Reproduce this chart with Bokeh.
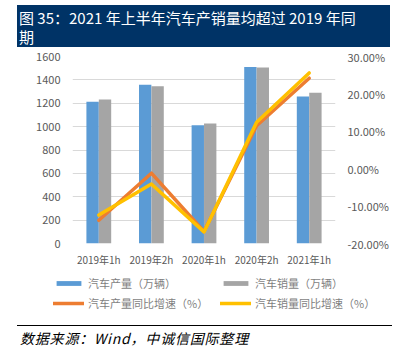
from bokeh.plotting import figure
from bokeh.models import (Range1d, LinearAxis, FixedTicker, PrintfTickFormatter, Legend, LegendItem,
                          ColumnDataSource, FactorRange, Div)
from bokeh.layouts import column
from bokeh.transform import dodge
from bokeh.embed import file_html
from bokeh.resources import INLINE

categories = ["2019年1h", "2019年2h", "2020年1h", "2020年2h", "2021年1h"]
production = [1213, 1359, 1012, 1510, 1257]
sales = [1232, 1345, 1026, 1505, 1289]
production_growth = [-13.8, -1.2, -16.8, 11.5, 24.2]
sales_growth = [-12.4, -4.1, -16.9, 12.4, 25.6]
left_ticks = [0, 200, 400, 600, 800, 1000, 1200, 1400, 1600]
right_ticks = [-20, -10, 0, 10, 20, 30]
series_names = ["汽车产量（万辆）", "汽车销量（万辆）", "汽车产量同比增速（%）", "汽车销量同比增速（%）"]

FONT = "Noto Sans CJK SC"
GRAY_TXT = "#595959"
C_PROD, C_SALES, C_PG, C_SG = "#5B9BD5", "#A5A5A5", "#ED7D31", "#FFC000"

src = ColumnDataSource(dict(cat=categories, prod=production, sales=sales,
                            pg=production_growth, sg=sales_growth))

p = figure(width=405, height=228, x_range=FactorRange(*categories), y_range=Range1d(0, 1600),
           output_backend="svg", toolbar_location=None, tools="")
p.min_border_left = 72
p.min_border_right = 70
p.min_border_top = 9
p.min_border_bottom = 32
p.outline_line_color = None
p.background_fill_color = "white"
p.border_fill_color = "white"
p.frame_align = False
p.x_range.range_padding = 0
p.extra_y_ranges = {"pct": Range1d(-20, 30)}

p.vbar(x=dodge("cat", -0.118, range=p.x_range), top="prod", width=0.235, source=src,
       fill_color=C_PROD, line_color=None)
p.vbar(x=dodge("cat", 0.118, range=p.x_range), top="sales", width=0.235, source=src,
       fill_color=C_SALES, line_color=None)
p.line(x="cat", y="pg", source=src, y_range_name="pct", line_color=C_PG,
       line_width=3.5, line_cap="round", line_join="round")
p.line(x="cat", y="sg", source=src, y_range_name="pct", line_color=C_SG,
       line_width=3.5, line_cap="round", line_join="round")

p.yaxis.ticker = FixedTicker(ticks=left_ticks)
ra = LinearAxis(y_range_name="pct", ticker=FixedTicker(ticks=right_ticks),
                formatter=PrintfTickFormatter(format="%.2f%%"))
p.add_layout(ra, "right")
for ax in [p.yaxis[0], ra, p.xaxis[0]]:
    ax.axis_line_color = None
    ax.major_tick_line_color = None
    ax.minor_tick_line_color = None
    ax.major_tick_out = 0
    ax.major_tick_in = 0
    ax.minor_tick_out = 0
    ax.minor_tick_in = 0
    ax.major_label_text_font = FONT
    ax.major_label_text_font_size = "11px"
    ax.major_label_text_color = GRAY_TXT
p.yaxis[0].major_label_standoff = 12
ra.major_label_standoff = 12
p.xaxis[0].major_label_standoff = 8
p.xaxis[0].major_label_text_font_size = "10px"
p.xgrid.grid_line_color = None
p.ygrid.grid_line_color = "#D9D9D9"
p.ygrid.grid_line_width = 1

# legend figure
lf = figure(width=405, height=43, x_range=Range1d(0, 1), y_range=Range1d(0, 1),
            output_backend="svg", toolbar_location=None, tools="")
lf.min_border_left = 53
lf.min_border_right = 0
lf.min_border_top = 0
lf.min_border_bottom = 0
lf.frame_align = False
lf.outline_line_color = None
lf.xaxis.visible = False
lf.yaxis.visible = False
lf.grid.visible = False
dummy = ColumnDataSource(dict(x=[-10, -9], y=[-10, -9]))
r1 = lf.vbar(x="x", top="y", width=0.1, source=dummy, fill_color=C_PROD, line_color=None)
r2 = lf.vbar(x="x", top="y", width=0.1, source=dummy, fill_color=C_SALES, line_color=None)
r3 = lf.line(x="x", y="y", source=dummy, line_color=C_PG, line_width=3.5, line_cap="round")
r4 = lf.line(x="x", y="y", source=dummy, line_color=C_SG, line_width=3.5, line_cap="round")
legend = Legend(items=[LegendItem(label=series_names[0], renderers=[r1], index=0),
                       LegendItem(label=series_names[1], renderers=[r2], index=0),
                       LegendItem(label=series_names[2], renderers=[r3]),
                       LegendItem(label=series_names[3], renderers=[r4])],
                orientation="horizontal", ncols=2, location="top_left", glyph_width=31, glyph_height=6,
                label_text_font=FONT, label_text_font_size="11px", label_text_color="#7F7F7F",
                label_standoff=4, spacing=4, padding=0, margin=0, label_width=128,
                border_line_color=None, background_fill_alpha=0, label_height=12)
lf.add_layout(legend, "center")

title = Div(text="图 35：2021 年上半年汽车产销量均超过 2019 年同<br>期", width=373, height=42,
            margin=(5, 15, 0, 17),
            styles={"background-color": "#003366", "color": "white", "font-family": FONT,
                    "font-size": "15px", "line-height": "19px", "padding": "3px 2px",
                    "box-sizing": "border-box", "overflow": "hidden"})

footer = Div(text="数据来源：Wind，中诚信国际整理", width=375, height=25, margin=(7, 13, 0, 17),
             styles={"border-top": "1px solid black", "color": "black", "font-family": FONT,
                     "font-size": "14px", "font-style": "italic", "line-height": "18px",
                     "letter-spacing": "0.8px",
                     "padding": "3px 3px 0 3px", "box-sizing": "border-box"})

layout = column(title, p, lf, footer, spacing=0)
open("out.html", "w").write(file_html(layout, INLINE))
